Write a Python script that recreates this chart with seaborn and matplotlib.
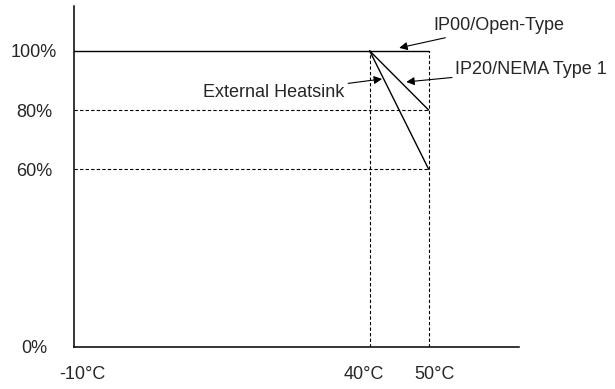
import matplotlib
matplotlib.use("Agg")
import matplotlib.pyplot as plt
import matplotlib.transforms as mtransforms
import seaborn as sns

# Courbes de déclassement (température ambiante -> courant de sortie)
temp_open = [-10, 40, 50]
derate_open = [100, 100, 100]
temp_nema = [40, 50]
derate_nema = [100, 80]
temp_ext = [40, 50]
derate_ext = [100, 60]

# Lignes de repère pointillées
ref_temps = [40, 50]
ref_levels = [80, 60]

x_ticks = [-10, 40, 50]
x_labels = ["-10°C", "40°C", "50°C"]
y_ticks = [0, 60, 80, 100]
y_labels = ["0%", "60%", "80%", "100%"]

sns.set_style("white")
plt.rcParams["font.family"] = ["Liberation Sans", "DejaVu Sans"]

fig = plt.figure(figsize=(6.15, 3.89), dpi=100)
ax = fig.add_axes([0.121, 0.108, 0.723, 0.877])

# pointillés
ax.hlines(ref_levels, x_ticks[0], ref_temps[-1], colors="black", linewidth=0.8, linestyles=(0, (3, 2)))
ax.vlines(ref_temps, 0, derate_open[0], colors="black", linewidth=0.8, linestyles=(0, (3, 2)))

# courbes
sns.lineplot(x=temp_open, y=derate_open, color="black", linewidth=1.0, ax=ax)
sns.lineplot(x=temp_nema, y=derate_nema, color="black", linewidth=1.0, ax=ax)
sns.lineplot(x=temp_ext, y=derate_ext, color="black", linewidth=1.0, ax=ax)

ax.set_xlim(-10, 65.3)
ax.set_ylim(0, 115.2)
ax.set_xticks(x_ticks)
ax.set_xticklabels(x_labels, fontsize=13)
ax.set_yticks(y_ticks)
ax.set_yticklabels(y_labels, fontsize=13, ha="center")
ax.tick_params(axis="x", length=0, pad=14)
ax.tick_params(axis="y", length=0, pad=29)
ax.grid(False)
for side in ["top", "right"]:
    ax.spines[side].set_visible(False)
for side in ["left", "bottom"]:
    ax.spines[side].set_linewidth(1.1)
    ax.spines[side].set_color("black")

# petits décalages des étiquettes x comme sur l'original
for lab, dx in zip(ax.get_xticklabels(), [7.5, -6, 6]):
    lab.set_transform(lab.get_transform() + mtransforms.ScaledTranslation(dx / 100, 0, fig.dpi_scale_trans))

# Annotations avec flèches
arrow = dict(arrowstyle="-|>", color="black", lw=0.8, mutation_scale=12, shrinkA=0, shrinkB=0)
ax.annotate("IP00/Open-Type", xy=(45.0, 101.0), xytext=(50.8, 108.4),
            fontsize=13, ha="left", va="center", arrowprops=arrow)
ax.annotate("IP20/NEMA Type 1", xy=(46.2, 89.5), xytext=(54.5, 93.6),
            fontsize=13, ha="left", va="center", arrowprops=arrow)
ax.annotate("External Heatsink", xy=(42.1, 90.5), xytext=(35.8, 85.8),
            fontsize=13, ha="right", va="center", arrowprops=arrow)

fig.savefig("out.png", dpi=100)
